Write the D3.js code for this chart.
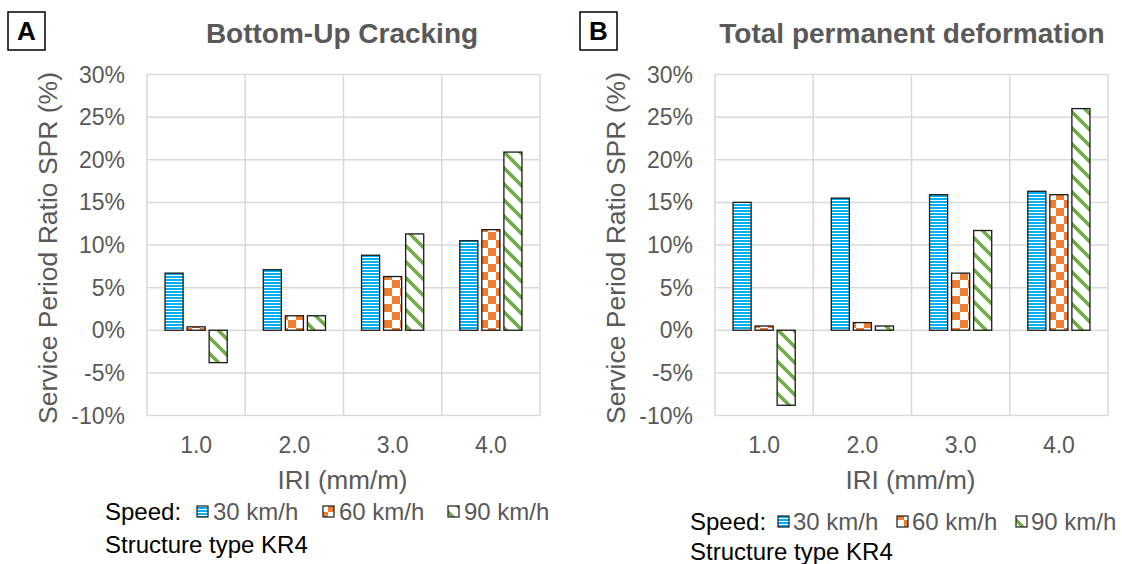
<!DOCTYPE html>
<html>
<head>
<meta charset="utf-8">
<script src="https://cdn.jsdelivr.net/npm/d3@7"></script>
<style>
  html, body { margin: 0; padding: 0; background: #fff; }
  svg text { font-family: "Liberation Sans", Arial, sans-serif; }
</style>
</head>
<body>
<svg id="chart" width="1122" height="564"></svg>
<script>
// ---------- DATA ----------
const categories = ["1.0", "2.0", "3.0", "4.0"];
const speeds = ["30 km/h", "60 km/h", "90 km/h"];
const yTickValues = [-10, -5, 0, 5, 10, 15, 20, 25, 30];

// Panel A: Bottom-Up Cracking (SPR %)
const crackingSpeed30 = [6.7, 7.1, 8.8, 10.5];
const crackingSpeed60 = [0.4, 1.7, 6.3, 11.8];
const crackingSpeed90 = [-3.8, 1.7, 11.3, 20.9];

// Panel B: Total permanent deformation (SPR %)
const deformSpeed30 = [15.0, 15.5, 15.9, 16.3];
const deformSpeed60 = [0.5, 0.9, 6.7, 15.9];
const deformSpeed90 = [-8.8, 0.5, 11.7, 26.0];

const panelTitles = ["Bottom-Up Cracking", "Total permanent deformation"];
const panelLetters = ["A", "B"];
const yAxisTitle = "Service Period Ratio SPR (%)";
const xAxisTitle = "IRI (mm/m)";
const legendLead = "Speed:";
const structureNote = "Structure type KR4";

// ---------- SETUP ----------
const svg = d3.select("#chart");
const gridColor = "#d9d9d9";
const textGray = "#595959";

// Patterns
const defs = svg.append("defs");
const pBlue = defs.append("pattern").attr("id", "pat0")
  .attr("patternUnits", "userSpaceOnUse").attr("width", 6).attr("height", 3);
pBlue.append("rect").attr("width", 6).attr("height", 3).attr("fill", "#ffffff");
pBlue.append("rect").attr("width", 6).attr("height", 2).attr("fill", "#00b0f0");
const pOr = defs.append("pattern").attr("id", "pat1")
  .attr("patternUnits", "userSpaceOnUse").attr("width", 16).attr("height", 16);
pOr.append("rect").attr("width", 16).attr("height", 16).attr("fill", "#ffffff");
pOr.append("rect").attr("width", 8).attr("height", 8).attr("fill", "#ed7d31");
pOr.append("rect").attr("x", 8).attr("y", 8).attr("width", 8).attr("height", 8).attr("fill", "#ed7d31");
const pGr = defs.append("pattern").attr("id", "pat2")
  .attr("patternUnits", "userSpaceOnUse").attr("width", 16).attr("height", 16);
pGr.append("rect").attr("width", 16).attr("height", 16).attr("fill", "#ffffff");
pGr.append("path").attr("d", "M-4,-4 L20,20 M-4,12 L4,20 M12,-4 L20,4")
  .attr("stroke", "#70ad47").attr("stroke-width", 3.6).attr("fill", "none");

const panels = [
  { left: 147, right: 540, tickX: 125, yLabelX: 57, titleX: 342,
    box: [8, 12, 37, 38], letter: panelLetters[0], title: panelTitles[0],
    values: [crackingSpeed30, crackingSpeed60, crackingSpeed90],
    legend: { leadX: 105, y: 520, swatchX: [197, 323, 448], textX: [213, 339, 464], sw: 11 },
    note: { x: 105, y: 553 } },
  { left: 715, right: 1108, tickX: 693, yLabelX: 625, titleX: 912,
    box: [580, 12, 37, 38], letter: panelLetters[1], title: panelTitles[1],
    values: [deformSpeed30, deformSpeed60, deformSpeed90],
    legend: { leadX: 690, y: 530, swatchX: [778, 897, 1016], textX: [793, 912, 1031], sw: 11 },
    note: { x: 690, y: 560 } }
];

const plotTop = 74.5, plotBottom = 415.5;

panels.forEach(p => {
  const g = svg.append("g");
  const x = d3.scaleBand().domain(categories).range([p.left, p.right]).padding(0);
  const groupW = x.bandwidth() * 0.633;
  const xs = d3.scaleBand().domain(speeds).range([0, groupW]).paddingInner(0.18);
  const y = d3.scaleLinear().domain([-10, 30]).range([plotBottom, plotTop]);

  g.selectAll(".hg").data(yTickValues).enter().append("line")
    .attr("x1", p.left).attr("x2", p.right)
    .attr("y1", d => y(d)).attr("y2", d => y(d))
    .attr("stroke", gridColor).attr("stroke-width", 1.5);
  const vb = categories.map(c => x(c)).concat([p.right]);
  g.selectAll(".vg").data(vb).enter().append("line")
    .attr("x1", d => d).attr("x2", d => d)
    .attr("y1", plotTop).attr("y2", plotBottom)
    .attr("stroke", gridColor).attr("stroke-width", 1.5);

  g.selectAll(".yt").data(yTickValues).enter().append("text")
    .attr("x", p.tickX).attr("y", d => y(d)).attr("dy", "0.35em")
    .attr("text-anchor", "end").attr("font-size", 23).attr("fill", textGray)
    .text(d => d + "%");

  g.selectAll(".xt").data(categories).enter().append("text")
    .attr("x", d => x(d) + x.bandwidth() / 2).attr("y", 453)
    .attr("text-anchor", "middle").attr("font-size", 23).attr("fill", textGray)
    .text(d => d);

  g.append("text").attr("x", (p.left + p.right) / 2 - 1).attr("y", 489)
    .attr("text-anchor", "middle").attr("font-size", 26).attr("fill", textGray)
    .text(xAxisTitle);
  g.append("text")
    .attr("transform", `translate(${p.yLabelX},${(plotTop + plotBottom) / 2 + 3}) rotate(-90)`)
    .attr("text-anchor", "middle").attr("font-size", 26.5).attr("fill", textGray)
    .text(yAxisTitle);

  g.append("text").attr("x", p.titleX).attr("y", 43)
    .attr("text-anchor", "middle").attr("font-size", 28).attr("font-weight", "bold")
    .attr("fill", textGray).text(p.title);

  g.append("rect").attr("x", p.box[0]).attr("y", p.box[1])
    .attr("width", p.box[2]).attr("height", p.box[3])
    .attr("fill", "#fff").attr("stroke", "#000").attr("stroke-width", 1.5);
  g.append("text").attr("x", p.box[0] + p.box[2] / 2).attr("y", p.box[1] + p.box[3] / 2)
    .attr("dy", "0.36em").attr("text-anchor", "middle")
    .attr("font-size", 26).attr("font-weight", "bold").attr("fill", "#000")
    .text(p.letter);

  const rows = [];
  categories.forEach((c, ci) => speeds.forEach((s, si) => rows.push({ c, s, si, v: p.values[si][ci] })));
  g.selectAll(".bar").data(rows).enter().append("rect")
    .attr("x", d => x(d.c) + (x.bandwidth() - groupW) / 2 + xs(d.s))
    .attr("width", xs.bandwidth())
    .attr("y", d => y(Math.max(0, d.v)))
    .attr("height", d => Math.abs(y(d.v) - y(0)))
    .attr("fill", d => `url(#pat${d.si})`)
    .attr("stroke", "#1a1a1a").attr("stroke-width", 1.3);

  const L = p.legend;
  g.append("text").attr("x", L.leadX).attr("y", L.y)
    .attr("font-size", 24).attr("fill", "#000").text(legendLead);
  speeds.forEach((s, i) => {
    g.append("rect").attr("x", L.swatchX[i]).attr("y", L.y - 14)
      .attr("width", L.sw).attr("height", L.sw)
      .attr("fill", `url(#pat${i})`).attr("stroke", "#1a1a1a").attr("stroke-width", 1.2);
    g.append("text").attr("x", L.textX[i]).attr("y", L.y)
      .attr("font-size", 24).attr("fill", textGray).text(s);
  });
  g.append("text").attr("x", p.note.x).attr("y", p.note.y)
    .attr("font-size", 24).attr("fill", "#000").text(structureNote);
});
</script>
</body>
</html>
